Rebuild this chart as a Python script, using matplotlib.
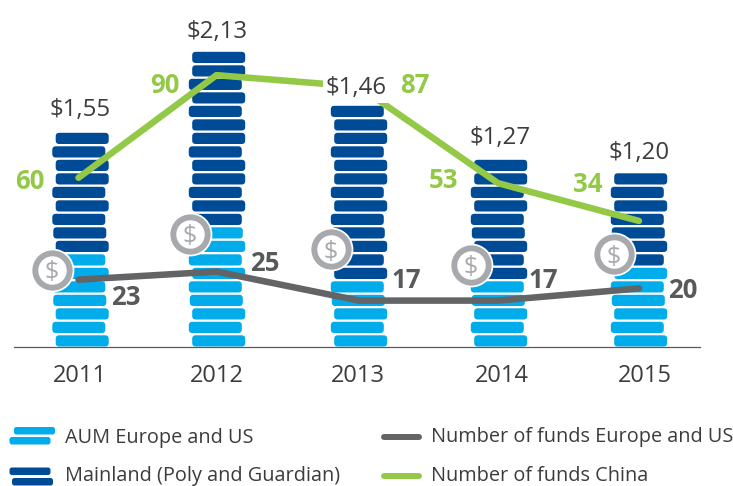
import matplotlib
matplotlib.use('Agg')
import matplotlib.pyplot as plt
from matplotlib.patches import FancyBboxPatch

years = ['2011', '2012', '2013', '2014', '2015']
aum_labels = ['$1,55', '$2,13', '$1,46', '$1,27', '$1,20']
# number of coins in each stack
light_coins = [7, 9, 5, 5, 6]
dark_coins = [9, 13, 13, 9, 7]
# line heights, in coin units
funds_china = [60, 90, 87, 53, 34]
china_height = [12.5, 20.1, 19.25, 12.1, 9.3]
funds_west = [23, 25, 17, 17, 20]
west_height = [4.95, 5.55, 3.4, 3.4, 4.3]
# height of the $ badge on each stack
badge_height = [5.7, 8.35, 7.2, 6.05, 6.85]

LIGHT = '#00ace9'
DARK = '#004b96'
GREEN = '#93c947'
GREY = '#636466'
TEXT = '#3c3c3e'
FONT = 'Open Sans'

W, H = 733, 486
PX_X = 139.5    # pixels per category
PX_Y = 13.5     # pixels per coin
COIN_W = 53
COIN_H = 11.2

# sideways shift of the coins in a stack, bottom to top, in pixels
jitter = [1.7, -1.7, 1.7, -0.7, -1.7, 1.7, -1.7, 1.7, -0.7, -1.7, 1.7,
          -1.7, 1.7, 1.7, -1.7, 1.7, 1.7, -1.7, 1.7, -1.7, 1.7, 1.7]
bar_nudge = [0.5, -2.5, 0, 0.5, 1]
tick_nudge = [-0.5, -2.8, -1, 3.5, 7]
badge_dx = [-28.5, -29.5, -28, -28, -24]
line_nudge = [-1.5, -3, 0, -0.5, 1]
aum_dy = [23, 20, 18, 22, 21]
aum_dx = [0, 0, -3, 1, 0]
china_off = [(-49, -4), (-52, -10), (56, 1), (-54, 3), (-51, 36)]
west_off = [(47, -18), (48, 8), (47, 20), (45, 20), (44, -2)]

fig = plt.figure(figsize=(W / 100, H / 100), dpi=100)
ax = fig.add_axes([14 / W, (H - 346.5) / H, 686 / W, 346.5 / H])
ax.set_xlim(-66 / PX_X, 620 / PX_X)
ax.set_ylim(0, 346.5 / PX_Y)
ax.patch.set_alpha(0)
for s in ['top', 'left', 'right']:
    ax.spines[s].set_visible(False)
ax.spines['bottom'].set_color('#58595b')
ax.spines['bottom'].set_linewidth(0.9)
ax.set_yticks([])
ax.set_xticks([i + tick_nudge[i] / PX_X for i in range(5)])
ax.set_xticklabels(years, fontsize=17, color=TEXT, family=FONT)
ax.tick_params(axis='x', length=0, pad=12.5)

# coin stacks
for i in range(5):
    for k in range(light_coins[i] + dark_coins[i]):
        cx = i + (bar_nudge[i] + jitter[k]) / PX_X
        coin = FancyBboxPatch((cx - COIN_W / 2 / PX_X, k), COIN_W / PX_X, COIN_H / PX_Y,
                              boxstyle='round,pad=0,rounding_size=%f' % (3.5 / PX_X),
                              mutation_aspect=PX_X / PX_Y,
                              fc=LIGHT if k < light_coins[i] else DARK, ec='none', zorder=2)
        ax.add_patch(coin)

xs = [i + line_nudge[i] / PX_X for i in range(5)]
ax.plot(xs, west_height, color=GREY, lw=4.7, solid_capstyle='round',
        solid_joinstyle='round', zorder=4, clip_on=False)
ax.plot(xs, china_height, color=GREEN, lw=4.7, solid_capstyle='round',
        solid_joinstyle='round', zorder=4, clip_on=False)

# $ badges
bx = [i + badge_dx[i] / PX_X for i in range(5)]
ax.scatter(bx, badge_height, s=31.5 ** 2, color='white', lw=0, zorder=5)
ax.scatter(bx, badge_height, s=29 ** 2, color='#a7a9ac', lw=0, zorder=6)
ax.scatter(bx, badge_height, s=20.5 ** 2, color='white', lw=0, zorder=7)
for x, y in zip(bx, badge_height):
    ax.text(x, y, '$', fontsize=18, color='#a7a9ac', ha='center', va='center_baseline',
            family=FONT, zorder=8)

# totals over the stacks
for i in range(5):
    n = light_coins[i] + dark_coins[i]
    ax.annotate(aum_labels[i], (i + bar_nudge[i] / PX_X, n - 0.22),
                xytext=(aum_dx[i], aum_dy[i]), textcoords='offset pixels',
                ha='center', va='center', fontsize=17.3, color=TEXT, family=FONT,
                annotation_clip=False, zorder=9,
                bbox=dict(fc='white', ec='none', pad=2) if i == 2 else None)

for i in range(5):
    ax.annotate(str(funds_china[i]), (xs[i], china_height[i]), xytext=china_off[i],
                textcoords='offset pixels', ha='center', va='center', fontsize=18.5,
                color=GREEN, family=FONT, fontweight='bold', zorder=9)
    ax.annotate(str(funds_west[i]), (xs[i], west_height[i]), xytext=west_off[i],
                textcoords='offset pixels', ha='center', va='center', fontsize=18.5,
                color='#58595b', family=FONT, fontweight='bold', zorder=9)

# legend, drawn by hand because of the two coin keys
leg = fig.add_axes([0, 0, 1, 1])
leg.set_xlim(0, W)
leg.set_ylim(H, 0)
leg.axis('off')
leg.patch.set_alpha(0)


def key_coin(x, y, color):
    leg.add_patch(FancyBboxPatch((x, y), 41, 7.5, boxstyle='round,pad=0,rounding_size=2.5',
                                 fc=color, ec='none'))


key_coin(14, 427, LIGHT)
key_coin(9.5, 437, LIGHT)
key_coin(9.5, 467.5, DARK)
key_coin(12, 478, DARK)
leg.plot([384, 419], [437, 437], color=GREY, lw=4.3, solid_capstyle='round')
leg.plot([384, 419], [476, 476], color=GREEN, lw=4.3, solid_capstyle='round')
for x, y, s in [(65, 438, 'AUM Europe and US'),
                (65, 476, 'Mainland (Poly and Guardian)'),
                (431, 437, 'Number of funds Europe and US'),
                (431, 476, 'Number of funds China')]:
    leg.text(x, y, s, fontsize=14.3, color=TEXT, family=FONT, ha='left', va='center')

fig.savefig('out.png', dpi=100)
